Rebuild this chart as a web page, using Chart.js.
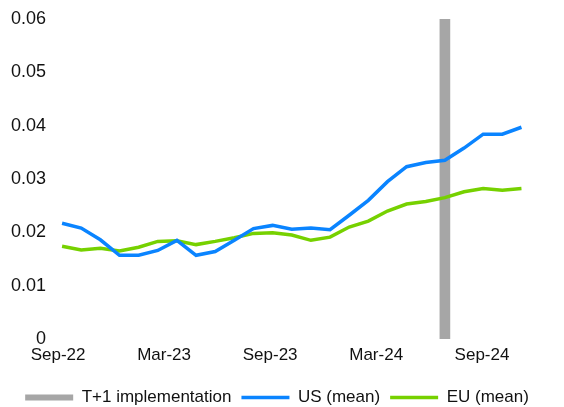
<!DOCTYPE html>
<html>
<head>
<meta charset="utf-8">
<script src="https://cdn.jsdelivr.net/npm/chart.js@4/dist/chart.umd.min.js"></script>
<style>
  html, body { margin: 0; padding: 0; background: #fff; }
  #wrap { width: 564px; height: 407px; position: relative; }
</style>
</head>
<body>
<div id="wrap"><canvas id="chart"></canvas></div>
<script>
// Series values, one per period (index 0 = first point after Sep-22)
const usMean = [0.0217, 0.0208, 0.0186, 0.0157, 0.0157, 0.0166, 0.0185, 0.0157, 0.0164, 0.0185,
                0.0207, 0.0213, 0.0206, 0.0208, 0.0205, 0.0232, 0.0260, 0.0295, 0.0323, 0.0331,
                0.0335, 0.0358, 0.0384, 0.0384, 0.0397];
const euMean = [0.0174, 0.0167, 0.0170, 0.0165, 0.0172, 0.0183, 0.0184, 0.0177, 0.0183, 0.0190,
                0.0198, 0.0199, 0.0195, 0.0185, 0.0191, 0.0210, 0.0221, 0.0240, 0.0253, 0.0258,
                0.0265, 0.0276, 0.0282, 0.0279, 0.0282];

// x-axis labels and where they sit on the period index axis
const tickLabels = ['Sep-22', 'Mar-23', 'Sep-23', 'Mar-24', 'Sep-24'];
const tickPositions = [-0.21, 5.33, 10.87, 16.41, 21.94];

// T+1 implementation marker
const t1Position = 20.0;
const t1Height = 0.06;

const FONT = "'Liberation Sans', Arial, sans-serif";
const TEXT = '#111';

const toPoints = arr => arr.map((v, i) => ({ x: i, y: v }));

new Chart(document.getElementById('chart').getContext('2d'), {
  data: {
    datasets: [
      {
        type: 'bar',
        label: 'T+1 implementation',
        data: [{ x: t1Position, y: t1Height }],
        backgroundColor: '#a6a6a6',
        borderWidth: 0,
        barThickness: 10,
        pointStyle: 'rect',
        order: 3
      },
      {
        type: 'line',
        label: 'US (mean)',
        data: toPoints(usMean),
        borderColor: '#0a84ff',
        backgroundColor: '#0a84ff',
        borderWidth: 3.5,
        pointRadius: 0,
        tension: 0,
        pointStyle: 'line',
        order: 1
      },
      {
        type: 'line',
        label: 'EU (mean)',
        data: toPoints(euMean),
        borderColor: '#76d100',
        backgroundColor: '#76d100',
        borderWidth: 3.5,
        pointRadius: 0,
        tension: 0,
        pointStyle: 'line',
        order: 2
      }
    ]
  },
  options: {
    responsive: true,
    maintainAspectRatio: false,
    animation: false,
    layout: { padding: { top: 19, left: 0, right: 10, bottom: -9 } },
    plugins: {
      legend: {
        position: 'bottom',
        labels: {
          usePointStyle: true,
          pointStyleWidth: 48,
          boxHeight: 6,
          padding: 10,
          color: TEXT,
          font: { family: FONT, size: 17 },
          sort: (a, b) => a.datasetIndex - b.datasetIndex
        }
      },
      tooltip: { enabled: false }
    },
    scales: {
      x: {
        type: 'linear',
        offset: false,
        min: -0.526,
        max: 25.7,
        grid: { display: false, drawTicks: false },
        border: { display: false },
        afterBuildTicks: scale => {
          scale.ticks = tickPositions.map(v => ({ value: v }));
        },
        afterFit: scale => { scale.height = 40; },
        ticks: {
          autoSkip: false,
          maxRotation: 0,
          padding: 6,
          color: TEXT,
          font: { family: FONT, size: 17 },
          callback: (v, i) => tickLabels[i]
        }
      },
      y: {
        min: 0,
        max: 0.06,
        grid: { display: false, drawTicks: false },
        border: { display: false },
        afterFit: scale => { scale.width = 52; },
        ticks: {
          stepSize: 0.01,
          padding: 6,
          color: TEXT,
          font: { family: FONT, size: 18 },
          callback: v => (v === 0 ? '0' : v.toFixed(2))
        }
      }
    }
  }
});
</script>
</body>
</html>
